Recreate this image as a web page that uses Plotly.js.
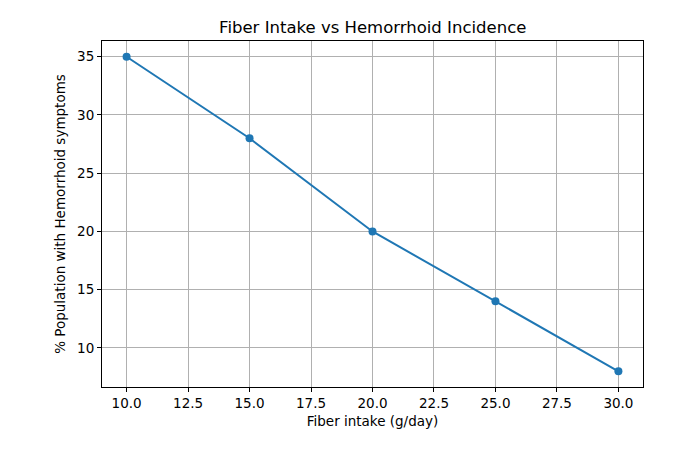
<!DOCTYPE html>
<html>
<head>
<meta charset="utf-8">
<script src="https://cdn.plot.ly/plotly-3.0.1.min.js"></script>
<style>
  body { margin: 0; background: #fff; }
  #plot { width: 700px; height: 450px; }
</style>
</head>
<body>
<div id="plot"></div>
<script>
// fiber intake (g/day) and share of people with symptoms (%)
var fiberIntake = [10, 15, 20, 25, 30];
var symptomPct = [35, 28, 20, 14, 8];

var xTicks = [10, 12.5, 15, 17.5, 20, 22.5, 25, 27.5, 30];
var yTicks = [10, 15, 20, 25, 30, 35];

var trace = {
  x: fiberIntake,
  y: symptomPct,
  type: "scatter",
  mode: "lines+markers",
  line: { color: "#1f77b4", width: 2 },
  marker: { color: "#1f77b4", size: 8 },
  hoverinfo: "x+y"
};

var axisStyle = {
  showline: true,
  mirror: true,
  linecolor: "#000",
  linewidth: 1,
  ticks: "outside",
  ticklen: 4,
  tickcolor: "#000",
  showgrid: true,
  gridcolor: "#b0b0b0",
  gridwidth: 1,
  zeroline: false,
  tickfont: { family: "DejaVu Sans", size: 13.5, color: "#000" }
};

var layout = {
  width: 700,
  height: 450,
  margin: { l: 102, r: 57, t: 41, b: 63 },
  paper_bgcolor: "#fff",
  plot_bgcolor: "#fff",
  showlegend: false,
  font: { family: "DejaVu Sans", color: "#000" },
  title: {
    text: "Fiber Intake vs Hemorrhoid Incidence",
    font: { family: "DejaVu Sans", size: 16.5, color: "#000" },
    x: 0.5325, xanchor: "center",
    y: 0.94, yanchor: "middle"
  },
  xaxis: Object.assign({}, axisStyle, {
    range: [9, 31],
    tickvals: xTicks,
    ticktext: xTicks.map(function (v) { return v.toFixed(1); }),
    title: { text: "Fiber intake (g/day)", font: { family: "DejaVu Sans", size: 13.5, color: "#000" }, standoff: 6 }
  }),
  yaxis: Object.assign({}, axisStyle, {
    range: [6.65, 36.35],
    tickvals: yTicks,
    title: { text: "% Population with Hemorrhoid symptoms", font: { family: "DejaVu Sans", size: 13.5, color: "#000" }, standoff: 8 }
  })
};

Plotly.newPlot("plot", [trace], layout, { displayModeBar: false });
</script>
</body>
</html>
